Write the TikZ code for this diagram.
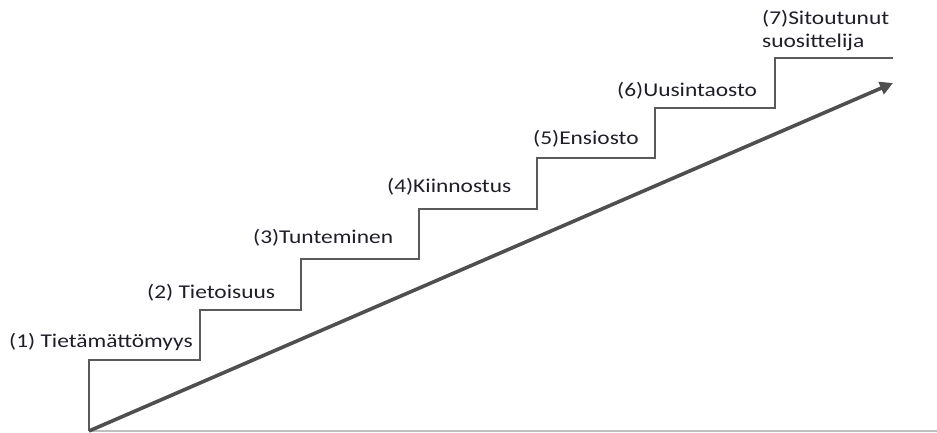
\documentclass[tikz,border=0pt]{standalone}
\usepackage{fontspec}
\setmainfont{Carlito}
\usepackage{tikz}
\usetikzlibrary{arrows.meta}
\usetikzlibrary{positioning}

\definecolor{stairgray}{HTML}{5A5A5A}
\definecolor{arrowgray}{HTML}{4F4F4F}
\definecolor{lbltext}{HTML}{1E1E28}
\newcommand{\stretchtxt}[1]{\scalebox{1.2}[1]{#1}}

\begin{document}
\begin{tikzpicture}[x=1pt,y=-1pt,
                stair/.style={draw=stairgray, line width=2.4pt, line join=miter},
                lbl/.style={anchor=base west, inner sep=0pt, text=lbltext, align=left,
                            font=\fontsize{19.5}{23}\selectfont},
                arrow/.style={draw=arrowgray, line width=3.6pt, -{Triangle[length=13pt,width=13pt]}},
                ground/.style={draw=black!25, line width=1.5pt}
            ]
            \useasboundingbox (0,0) rectangle (937,433);
            % step corners
            \coordinate (o) at (89,431);
            \coordinate (s1) at (89,360);
            \coordinate (s2) at (200,310);
            \coordinate (s3) at (301,259);
            \coordinate (s4) at (419,209);
            \coordinate (s5) at (537,158);
            \coordinate (s6) at (655,108);
            \coordinate (s7) at (775,58);
            \coordinate (e) at (893,58);
            \coordinate (tip) at (893,83);
            \coordinate (g) at (937,431);

            \draw[ground] (o) -- (g);
            \draw[stair] (o) -- (s1) -| (s2) -| (s3) -| (s4) -| (s5) -| (s6) -| (s7) -- (e);
            \path[arrow] (o) -- (tip);

            \node[lbl] (l1) at (9,347) {\stretchtxt{(1) Tietämättömyys}};
            \node[lbl] (l2) at (147,298) {\stretchtxt{(2) Tietoisuus}};
            \node[lbl] (l3) at (253,243) {\stretchtxt{(3)Tunteminen}};
            \node[lbl] (l4) at (387,193) {\stretchtxt{(4)Kiinnostus}};
            \node[lbl] (l5) at (533,145) {\stretchtxt{(5)Ensiosto}};
            \node[lbl] (l6) at (617,97) {\stretchtxt{(6)Uusintaosto}};
            % base of a two-line node is its last line
            \node[lbl] (l7) at (762,48) {\stretchtxt{(7)Sitoutunut}\\\stretchtxt{suosittelija}};
        \end{tikzpicture}
\end{document}
